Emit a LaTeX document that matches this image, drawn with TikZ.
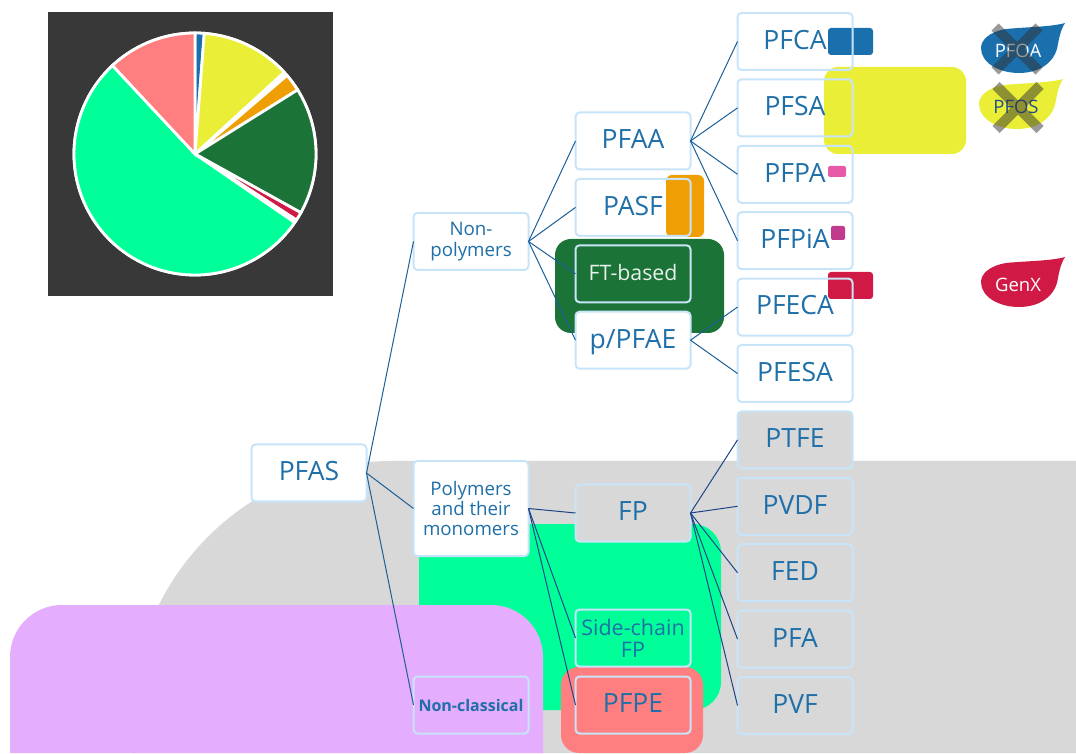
\documentclass[tikz,border=0pt]{standalone}
\usepackage{fontspec}
\setmainfont{Open Sans}
\usetikzlibrary{shapes.misc}

\definecolor{slateback}{HTML}{383838}
\definecolor{blobgray}{HTML}{D8D8D8}
\definecolor{springgreen}{HTML}{00FF99}
\definecolor{lilac}{HTML}{E5ADFD}
\definecolor{salmon}{HTML}{FF7F80}
\definecolor{forest}{HTML}{1B7337}
\definecolor{amber}{HTML}{EF9F03}
\definecolor{lemon}{HTML}{EAEE37}
\definecolor{oceanblue}{HTML}{1A6FAD}
\definecolor{crimsonred}{HTML}{D01A45}
\definecolor{hotpink}{HTML}{E65AA8}
\definecolor{plum}{HTML}{C03A8E}
\definecolor{boxblue}{HTML}{C8E4F8}
\definecolor{textblue}{HTML}{1F6FA8}
\definecolor{linkblue}{HTML}{1B5F98}
\definecolor{linknavy}{HTML}{1D4488}
\definecolor{navytext}{HTML}{1F4E8C}

\begin{document}
\begin{tikzpicture}[x=1pt,y=1pt,node distance=66.4pt,
    cell/.style={draw=boxblue,line width=2pt,rounded corners=4pt,outer sep=0pt,inner sep=0pt,minimum width=115pt,minimum height=57pt,align=center,text=textblue},
    box/.style={cell,text height=19pt,text depth=3.2pt,font=\fontsize{26.5}{30}\selectfont},
    small box/.style={cell,font=\fontsize{18.7}{20.3}\selectfont},
    white box/.style={fill=white},
    patch/.style={rounded corners=#1},
    link/.style={draw=linkblue,line width=1pt},
    navy link/.style={draw=linknavy,line width=1pt},
    slice/.style={draw=white,line width=2.8pt},
    tag/.style={font=\fontsize{18.5}{20}\selectfont},
    cross/.style={cross out,draw=black!80,draw opacity=0.5,line width=10pt,minimum width=34pt,minimum height=34pt,inner sep=0pt},
    leaf/.pic={\fill[pic actions] (84,50) .. controls (70,46) and (45,46) .. (25,44) .. controls (8,41) and (0,33) .. (0,25) .. controls (0,10) and (18,0) .. (38,0) .. controls (58,0) and (72,10) .. (76,24) .. controls (78,34) and (79,42) .. (84,50) -- cycle;}]

            \useasboundingbox (0,0) rectangle (1076,753);

            % pie
            \fill[slateback] (48,457) rectangle (333,741);
            \coordinate (pie) at (195,599);
            \fill[white] (pie) circle (122.4);
            \foreach \from/\to/\col in {0/4.4/oceanblue, 4.4/47.5/lemon, 49.5/58/amber, 58/119/forest, 119/123/crimsonred, 124.5/317/springgreen, 317/360/salmon}
                \draw[slice,fill=\col] (pie) -- ++({90-\from}:121) arc[start angle={90-\from},end angle={90-\to},radius=121] -- cycle;

            % coloured patches behind the boxes
            \fill[blobgray] (132,0) -- (132,33) arc[start angle=180,end angle=90,radius=259] -- (1076,292) -- (1076,0) -- cycle;
            \fill[springgreen,patch=28pt] (419,43) rectangle (721,229);
            \fill[lilac] (10,0) -- (10,96) arc[start angle=180,end angle=90,radius=52] -- (491,148) arc[start angle=90,end angle=0,radius=52] -- (543,0) -- cycle;
            \fill[salmon,patch=18pt] (561,0) rectangle (703,86);
            \fill[forest,patch=16pt] (555,420) rectangle (724,514);
            \fill[amber,patch=6pt] (666,516) rectangle (704,578);
            \fill[lemon,patch=14pt] (824,599) rectangle (966,686);
            \fill[oceanblue,patch=3pt] (828,698) rectangle (873,725);
            \fill[crimsonred,patch=3pt] (828,454) rectangle (873,481);
            \fill[hotpink,patch=2pt] (828,576) rectangle (846,587);
            \fill[plum,patch=2pt] (831,513) rectangle (845,527);

            % column on the right
            \node[box]  (PFCA) at (795,711.5) {PFCA};
            \node[box]  (PFSA) [below of = PFCA] {PFSA};
            \node[box]  (PFPA) [below of = PFSA] {PFPA};
            \node[box]  (PFPiA) [below of = PFPA] {PFPiA};
            \node[box]  (PFECA) [below of = PFPiA] {PFECA};
            \node[box]  (PFESA) [below of = PFECA] {PFESA};
            \node[box,fill=blobgray]  (PTFE) [below of = PFESA] {PTFE};
            \node[box]  (PVDF) [below of = PTFE] {PVDF};
            \node[box]  (FED) [below of = PVDF] {FED};
            \node[box]  (PFA) [below of = FED] {PFA};
            \node[box]  (PVF) [below of = PFA] {PVF};

            % middle column
            \node[box]  (PFAA) at (633,612) {PFAA};
            \node[box]  (PASF) [below of = PFAA] {PASF};
            \node[box,text=white!90!forest,text height=16pt,text depth=3.4pt,font=\fontsize{21.3}{26}\selectfont]  (FTbased) [below of = PASF] {FT-based};
            \node[box,white box]  (pPFAE) [below of = FTbased] {p/PFAE};
            \node[box,fill=blobgray]  (FP) at (633,240) {FP};
            \node[cell,font=\fontsize{21.5}{22}\selectfont]  (SideChain) at (633,115) {Side-chain\\FP};
            \node[box]  (PFPE) at (633,48) {PFPE};

            % first level
            \node[small box,white box]  (NonPoly) at (471,511.5) {Non-\\polymers};
            \node[small box,white box,minimum height=95pt]  (Polymers) at (471,244.5) {Polymers\\and their\\monomers};
            \node[cell,font=\fontsize{16}{18}\selectfont\bfseries]  (NonClass) at (471,48) {Non-classical};
            \node[box,white box]  (PFAS) at (309,280) {PFAS};

            \path[link]
                (PFAS.east) edge (NonPoly.west)
                (PFAS.east) edge (Polymers.west)
                (PFAS.east) edge (NonClass.west)
                (NonPoly.east) edge (PFAA.west)
                (NonPoly.east) edge (PASF.west)
                (NonPoly.east) edge (FTbased.west)
                (NonPoly.east) edge (pPFAE.west)
                (PFAA.east) edge (PFCA.west)
                (PFAA.east) edge (PFSA.west)
                (PFAA.east) edge (PFPA.west)
                (PFAA.east) edge (PFPiA.west)
                (pPFAE.east) edge (PFECA.west)
                (pPFAE.east) edge (PFESA.west)
            ;
            \path[navy link]
                (Polymers.east) edge (FP.west)
                (Polymers.east) edge (SideChain.west)
                (Polymers.east) edge (PFPE.west)
                (FP.east) edge (PTFE.west)
                (FP.east) edge (PVDF.west)
                (FP.east) edge (FED.west)
                (FP.east) edge (PFA.west)
                (FP.east) edge (PVF.west)
            ;

            % leaves on the far right
            \pic[fill=oceanblue] at (981,680) {leaf};
            \pic[fill=lemon] at (979,624) {leaf};
            \pic[fill=crimsonred] at (981,446) {leaf};
            \node[tag,text=white]  (PFOA) at (1018,702) {PFOA};
            \node[tag,text=navytext]  (PFOS) at (1016,646) {PFOS};
            \node[tag,text=white]  (GenX) at (1018,468) {GenX};
            \node[cross]  (crossA) at (1017,704) {};
            \node[cross]  (crossB) at (1018,645.5) {};

\end{tikzpicture}
\end{document}
